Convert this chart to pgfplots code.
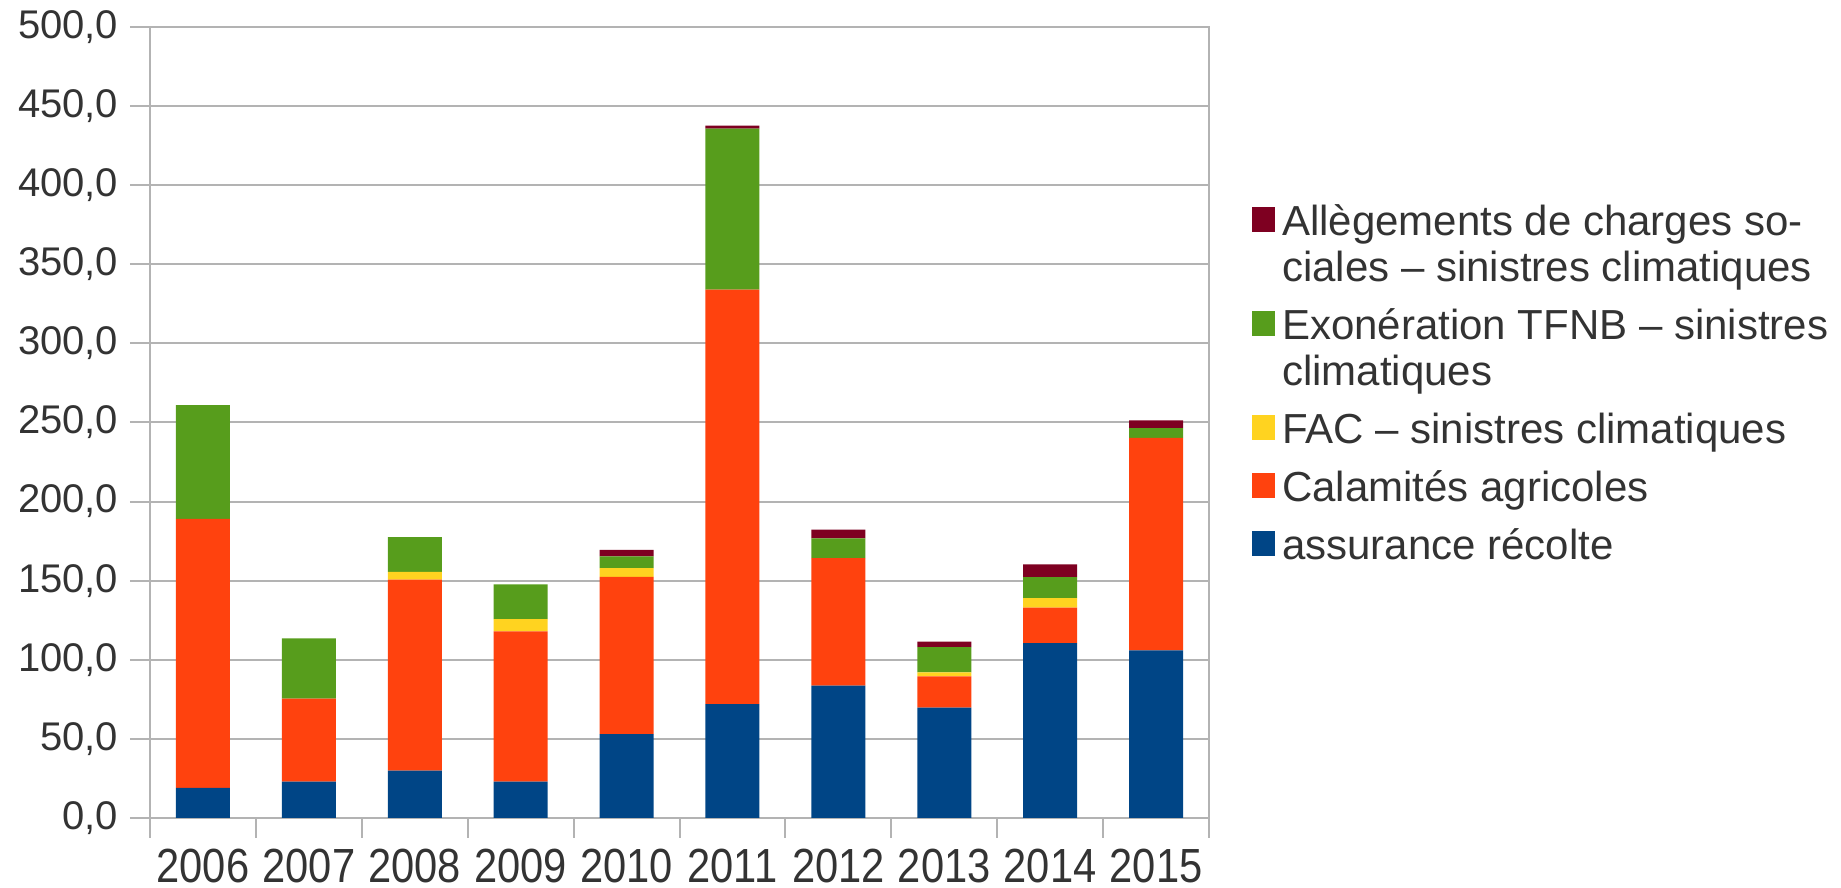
\documentclass[border=0pt]{standalone}
\usepackage{pgfplots}
\pgfplotsset{compat=1.18}
\usepackage{pgfplotstable}
\usepackage{fontspec}
\setmainfont{Liberation Sans}

\definecolor{cBlue}{HTML}{004586}
\definecolor{cOrange}{HTML}{FF420E}
\definecolor{cYellow}{HTML}{FFD320}
\definecolor{cGreen}{HTML}{579D1C}
\definecolor{cRed}{HTML}{7E0021}
\definecolor{cGrid}{HTML}{B3B3B3}
\definecolor{cText}{HTML}{333333}

% x  year  assurance  calamites  FAC  TFNB  allegements
\pgfplotstableread{
x year blue orange yellow green red
0 2006 19    170   0   72    0
1 2007 23    52.5  0   38    0
2 2008 30    120.6 5   22    0
3 2009 23    95    7.7 22    0
4 2010 53    99.4  5.6 7.3   4.1
5 2011 72    262   0   101.8 1.8
6 2012 83.7  80.6  0   12.5  5.5
7 2013 69.8  19.7  2.5 16    3.5
8 2014 110.5 22.5  6   13.2  8.1
9 2015 106   134.2 0   6.3   4.8
}\data

% struts so that every legend line has the same height and depth
\newcommand{\up}{\rule{0pt}{9.5pt}}
\newcommand{\dn}{\rule[-3.3pt]{0pt}{3.3pt}}

% legend square on the first line of a two-line entry
\pgfplotsset{twoline/.style={legend image code/.code={\fill[##1] (0pt,3.8pt) rectangle (7pt,11.3pt);}}}

\begin{document}
\begin{tikzpicture}
\useasboundingbox (-45pt,-21pt) rectangle (507.3pt,245.4pt);
\begin{axis}[
  at={(0,0)}, anchor=south west,
  scale only axis,
  width=317.7pt, height=237.3pt,
  ybar stacked,
  bar width=16.2pt,
  xmin=-0.5, xmax=9.5,
  ymin=0, ymax=500,
  xtick={0,...,9},
  xticklabels={2006,2007,2008,2009,2010,2011,2012,2013,2014,2015},
  minor xtick={-0.5,0.5,...,9.5},
  ytick={0,50,...,500},
  tick align=outside,
  xtick pos=bottom, ytick pos=left,
  major x tick style={draw=none},
  minor tick length=6pt,
  major tick length=6pt,
  tick style={cGrid, line width=0.6pt},
  axis line style={cGrid, line width=0.6pt},
  ymajorgrids,
  grid style={cGrid, line width=0.6pt},
  font=\fontsize{12}{14}\selectfont,
  tick label style={text=cText},
  yticklabel style={/pgf/number format/.cd, fixed, fixed zerofill, precision=1, use comma, assume math mode=true},
  xticklabel style={font=\fontsize{12.5}{14}\selectfont, yscale=1.15, yshift=0.6pt},
  legend style={
    at={(1.040,0.786)}, anchor=north west,
    draw=none, fill=none, inner sep=0pt,
    font=\fontsize{12.6}{13.8}\selectfont,
    text=cText,
    row sep=2.4pt, column sep=0pt,
    cells={anchor=west, align=left, inner sep=0pt},
  },
  reverse legend,
  legend image code/.code={\fill[#1] (0pt,-3.1pt) rectangle (7pt,4.4pt);},
]
\addplot[fill=cBlue, draw=none] table[x=x, y=blue] {\data};
\addlegendentry{\up assurance récolte\dn}
\addplot[fill=cOrange, draw=none] table[x=x, y=orange] {\data};
\addlegendentry{\up Calamités agricoles\dn}
\addplot[fill=cYellow, draw=none] table[x=x, y=yellow] {\data};
\addlegendentry{\up FAC – sinistres climatiques\dn}
\addplot[fill=cGreen, draw=none, twoline] table[x=x, y=green] {\data};
\addlegendentry{\up Exonération TFNB – sinistres\\climatiques\dn}
\addplot[fill=cRed, draw=none, twoline] table[x=x, y=red] {\data};
\addlegendentry{\up Allègements de charges so-\\ciales – sinistres climatiques\dn}
\end{axis}
\end{tikzpicture}
\end{document}
